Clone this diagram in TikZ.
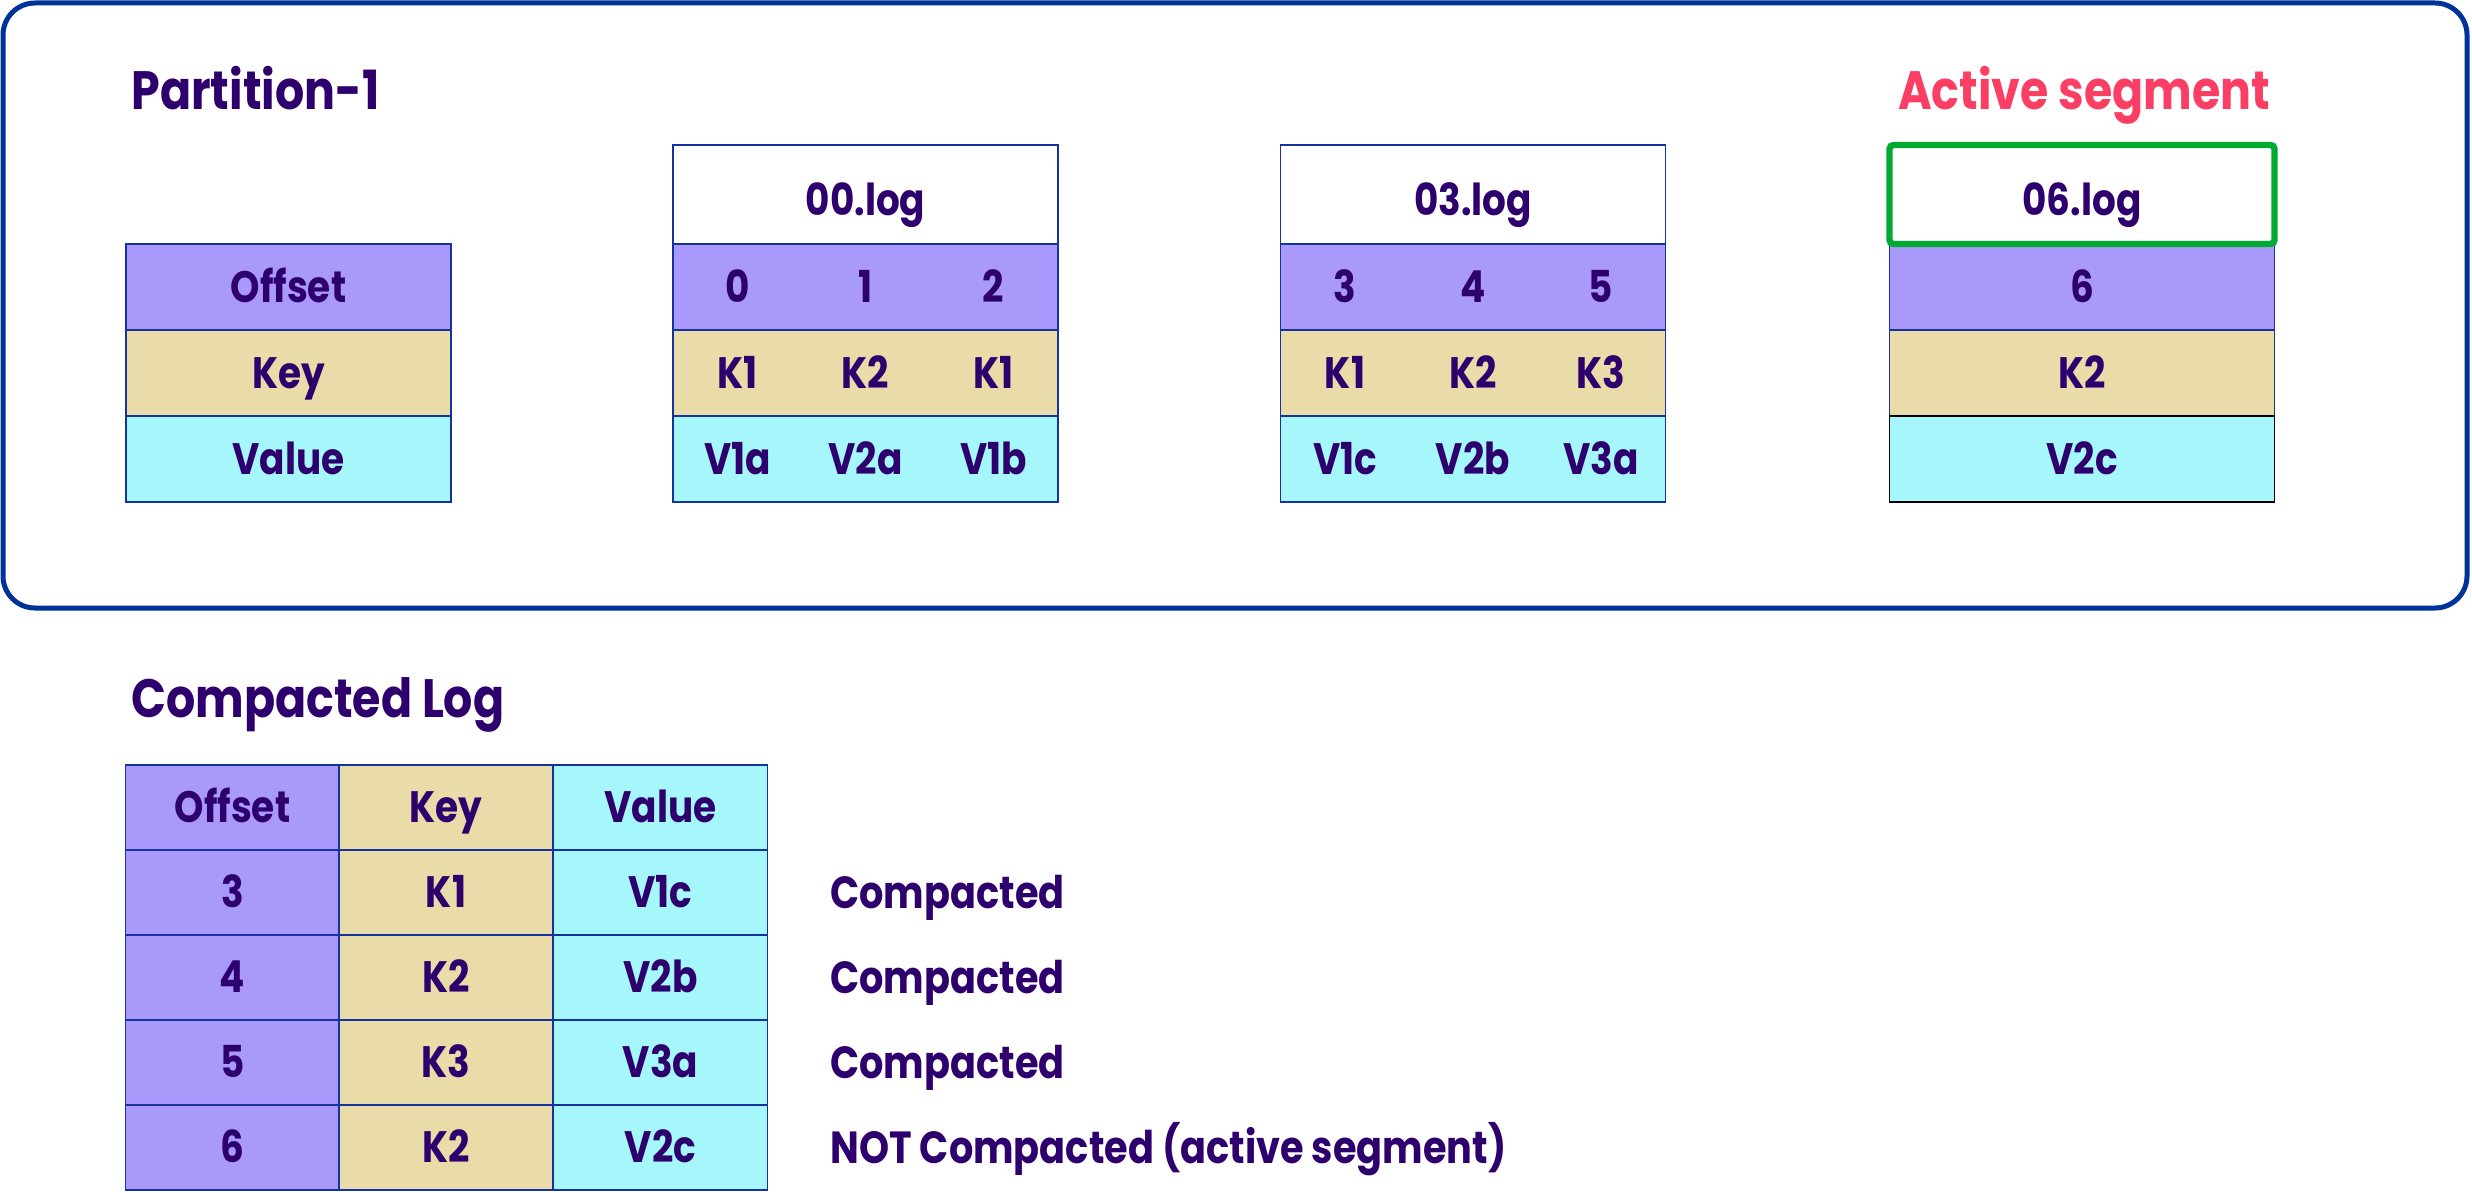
\documentclass[tikz,border=0pt]{standalone}
\usepackage{fontspec}
\setmainfont{Poppins}[FakeStretch=0.85]
\definecolor{txt}{RGB}{46,0,110}
\definecolor{offc}{RGB}{169,153,251}
\definecolor{keyc}{RGB}{233,220,168}
\definecolor{valc}{RGB}{165,247,252}
\definecolor{outb}{RGB}{0,51,153}
\definecolor{cellb}{RGB}{20,50,160}
\definecolor{grn}{RGB}{0,170,51}
\definecolor{red}{RGB}{250,62,100}
\tikzset{
  capc/.style={text height=15.4pt, text depth=0pt},
  cell/.style={draw=cellb, line width=0.7pt, inner sep=0pt, outer sep=0pt, capc},
  toprow/.style={cell, minimum width=192.5pt, minimum height=43pt},
  hdrrow/.style={cell, fill=white, minimum width=192.5pt, minimum height=49.5pt, text=txt, font=\tabfont, text height=21pt},
  legrow/.style={cell, minimum width=162.5pt, minimum height=43pt, text=txt, font=\tabfont},
  botcell/.style={cell, minimum width=107pt, minimum height=42.5pt, text=txt, font=\tabfont},
  val/.style={text=txt, font=\tabfont, inner sep=0pt, capc},
  title/.style={text=txt, font=\titlefont, inner sep=0pt, anchor=base west},
  lab/.style={text=txt, font=\labfont, inner sep=0pt, anchor=west, text height=15.8pt, text depth=0pt},
}
\newcommand\tabfont{\fontsize{22}{26}\selectfont\bfseries}
\newcommand\titlefont{\fontsize{27}{32}\selectfont\bfseries}
\newcommand\labfont{\fontsize{22.5}{27}\selectfont\bfseries}
\begin{document}
\begin{tikzpicture}[x=0.5pt,y=-0.5pt]
\useasboundingbox (0,0) rectangle (2472,1193);
% outer partition box
\node[draw=outb, line width=2.5pt, rounded corners=16pt, minimum width=1232pt, minimum height=302.5pt, inner sep=0pt] (part) at (1235,305.5) {};
\node[title] (ptitle) at (131,110) {Partition-1};
\node[text=red, font=\titlefont, inner sep=0pt, anchor=base] (atitle) at (2084,110) {Active segment};
% legend
\node[legrow, fill=offc] (lo) at (288.5,287) {Offset};
\node[legrow, fill=keyc] (lk) at (288.5,373) {Key};
\node[legrow, fill=valc] (lv) at (288.5,459) {Value};
% 00.log
\node[hdrrow] (h0) at (865.5,194.5) {00.log};
\node[toprow, fill=offc] (o0) at (865.5,287) {};
\node[toprow, fill=keyc] (k0) at (865.5,373) {};
\node[toprow, fill=valc] (v0) at (865.5,459) {};
\node[val] (o0a) at (737.5,287) {0};
\node[val] (o0b) at (865.5,287) {1};
\node[val] (o0c) at (993.5,287) {2};
\node[val] (k0a) at (737.5,373) {K1};
\node[val] (k0b) at (865.5,373) {K2};
\node[val] (k0c) at (993.5,373) {K1};
\node[val] (v0a) at (737.5,459) {V1a};
\node[val] (v0b) at (865.5,459) {V2a};
\node[val] (v0c) at (993.5,459) {V1b};
% 03.log
\node[hdrrow] (h3) at (1473,194.5) {03.log};
\node[toprow, fill=offc] (o3) at (1473,287) {};
\node[toprow, fill=keyc] (k3) at (1473,373) {};
\node[toprow, fill=valc] (v3) at (1473,459) {};
\node[val] (o3a) at (1345,287) {3};
\node[val] (o3b) at (1473,287) {4};
\node[val] (o3c) at (1601,287) {5};
\node[val] (k3a) at (1345,373) {K1};
\node[val] (k3b) at (1473,373) {K2};
\node[val] (k3c) at (1601,373) {K3};
\node[val] (v3a) at (1345,459) {V1c};
\node[val] (v3b) at (1473,459) {V2b};
\node[val] (v3c) at (1601,459) {V3a};
% 06.log
\node[toprow, fill=offc, text=txt, font=\tabfont] (o6) at (2082,287) {6};
\node[toprow, fill=keyc, text=txt, font=\tabfont] (k6) at (2082,373) {K2};
\node[toprow, fill=valc, draw=black, text=txt, font=\tabfont] (v6) at (2082,459) {V2c};
\node[hdrrow, draw=grn, line width=3.2pt, rounded corners=2pt] (h6) at (2082,194.5) {06.log};
% compacted log
\node[title] (ctitle) at (131,717) {Compacted Log};
\node[botcell, fill=offc] (bo0) at (232.5,807.5) {Offset};
\node[botcell, fill=keyc] (bk0) at (446,807.5) {Key};
\node[botcell, fill=valc] (bv0) at (660.5,807.5) {Value};
\node[botcell, fill=offc] (bo1) at (232.5,892.5) {3};
\node[botcell, fill=keyc] (bk1) at (446,892.5) {K1};
\node[botcell, fill=valc] (bv1) at (660.5,892.5) {V1c};
\node[botcell, fill=offc] (bo2) at (232.5,977.5) {4};
\node[botcell, fill=keyc] (bk2) at (446,977.5) {K2};
\node[botcell, fill=valc] (bv2) at (660.5,977.5) {V2b};
\node[botcell, fill=offc] (bo3) at (232.5,1062.5) {5};
\node[botcell, fill=keyc] (bk3) at (446,1062.5) {K3};
\node[botcell, fill=valc] (bv3) at (660.5,1062.5) {V3a};
\node[botcell, fill=offc] (bo4) at (232.5,1147.5) {6};
\node[botcell, fill=keyc] (bk4) at (446,1147.5) {K2};
\node[botcell, fill=valc] (bv4) at (660.5,1147.5) {V2c};
\node[lab] (l1) at (830,892.5) {Compacted};
\node[lab] (l2) at (830,977.5) {Compacted};
\node[lab] (l3) at (830,1062.5) {Compacted};
\node[lab] (l4) at (830,1147.5) {NOT Compacted (active segment)};
\end{tikzpicture}
\end{document}
